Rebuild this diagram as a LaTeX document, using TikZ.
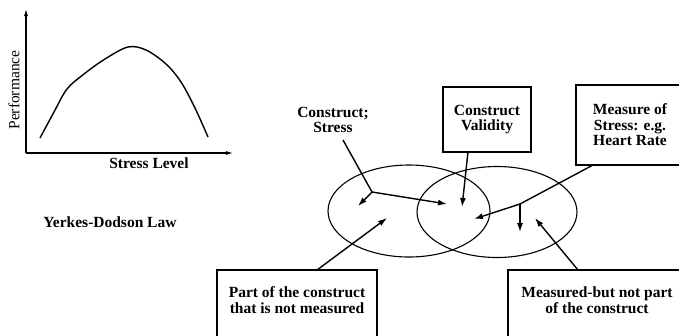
\documentclass[tikz,border=0pt]{standalone}
\usepackage{fontspec}
\setmainfont{Liberation Serif}
\usetikzlibrary{arrows.meta,shapes.geometric}

\begin{document}
\begin{tikzpicture}[x=1pt,y=-1pt,
  lbl/.style={font=\fontsize{15.5}{15.5}\selectfont\bfseries, align=center, inner sep=0pt},
  box/.style={draw, line width=1.2pt, inner sep=0pt},
  link/.style={line width=1.4pt, -{Latex[length=9pt,width=6pt]}},
  plain/.style={line width=1.4pt},
  axis/.style={line width=1.1pt, -{Latex[length=7pt,width=4pt]}},
  oval/.style={draw, ellipse, line width=1.1pt, inner sep=0pt}]

\useasboundingbox (0,0) rectangle (679,335);
\clip (0,0) rectangle (679,335);

% Yerkes-Dodson graph
\coordinate (origin) at (26,153);
\coordinate (ytop) at (26,9);
\coordinate (xend) at (233,153);
\draw[axis] (origin) -- (ytop);
\draw[axis] (origin) -- (xend);
\draw[line width=1.4pt, line join=round] plot[smooth, tension=0.55] coordinates
  {(40,138) (54,112) (67,89) (84,74) (105,59) (128,47) (146,50) (166,64) (181,82) (195,108) (208,137)};
\node[font=\fontsize{15.5}{16}\selectfont, rotate=90, inner sep=0pt] (perf) at (14,90) {Performance};
\node[lbl] (stresslevel) at (149,163) {Stress Level};
\node[lbl] (law) at (110,222) {Yerkes-Dodson Law};

% overlapping construct / measure ovals
\node[oval, minimum width=162, minimum height=92] (construct) at (409,211) {};
\node[oval, minimum width=160, minimum height=91] (measure) at (497,212) {};

% labels and boxes
\node[lbl] (cstress) at (333,120) {Construct;\\Stress};
\node[box, lbl, minimum width=88, minimum height=65] (validity) at (487,119.5) {Construct\\Validity};
\node[box, lbl, minimum width=108, minimum height=80] (mstress) at (630,125) {Measure of\\Stress: e.g.\\Heart Rate};
\node[box, minimum width=160, minimum height=80] (partbox) at (297,310) {};
\node[lbl] (parttext) at (297,300) {Part of the construct\\that is not measured};
\node[box, minimum width=178, minimum height=80] (measbox) at (597,310) {};
\node[lbl] (meastext) at (597,300) {Measured-but not part\\of the construct};

% connector points
\coordinate (cs0) at (343,140);
\coordinate (csj) at (372,192);
\coordinate (csl) at (358,206);
\coordinate (csr) at (447,204);
\coordinate (cv0) at (468,152);
\coordinate (cvt) at (462,207);
\coordinate (ms0) at (593,165);
\coordinate (msj) at (520,204);
\coordinate (msl) at (474,219);
\coordinate (msd) at (520,232);
\coordinate (pb0) at (317,270);
\coordinate (pbt) at (387,218);
\coordinate (mb0) at (578,270);
\coordinate (mbt) at (535,218);

\draw[plain] (cs0) -- (csj);
\draw[link] (csj) -- (csl);
\draw[link] (csj) -- (csr);
\draw[link] (cv0) -- (cvt);
\draw[plain] (ms0) -- (msj);
\draw[link] (msj) -- (msl);
\draw[link] (msj) -- (msd);
\draw[link] (pb0) -- (pbt);
\draw[link] (mb0) -- (mbt);
\end{tikzpicture}
\end{document}
